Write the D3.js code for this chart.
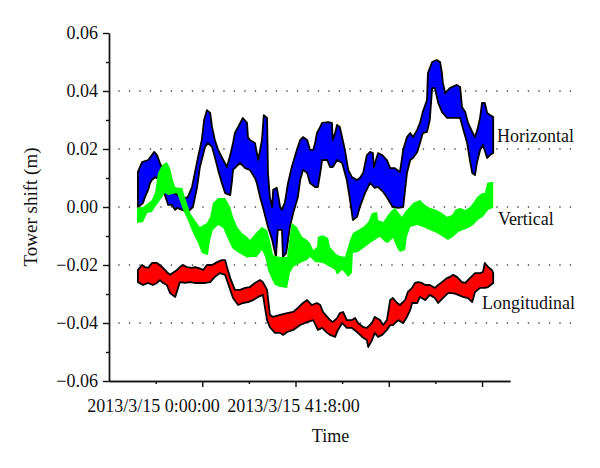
<!DOCTYPE html>
<html>
<head>
<meta charset="utf-8">
<script src="https://cdnjs.cloudflare.com/ajax/libs/d3/7.8.5/d3.min.js"></script>
<style>
  body { margin: 0; background: #fff; }
  svg text { font-family: "Liberation Serif", "Times New Roman", serif; fill: #111; }
</style>
</head>
<body>
<div id="chart"></div>
<script>
// y axis ticks (m)
var yMajorTicks = [-0.06, -0.04, -0.02, 0, 0.02, 0.04, 0.06];
var yMinorTicks = [-0.05, -0.03, -0.01, 0.01, 0.03, 0.05];
var yGridValues = [-0.04, -0.02, 0, 0.02, 0.04];

// x axis in tick units (one minor step = 10)
var xMajorTicks = [20, 40, 60, 80];
var xMinorTicks = [10, 30, 50, 70];
var xTickLabels = [[10, '2013/3/15 0:00:00'], [40, '2013/3/15 41:8:00']];

// each series is a band: upper edge and lower edge, [time, shift]
var horizontalTop = [[6.2,0.0121],[7.1,0.0155],[8.4,0.0162],[9.2,0.0179],[9.7,0.0190],[10.3,0.0179],[10.9,0.0152],[11.4,0.0134],[12.2,0.0093],[13.5,0.0052],[14.8,0.0041],[16.1,0.0031],[16.9,0.0034],[17.8,0.0069],[18.4,0.0117],[19.1,0.0172],[19.9,0.0231],[20.4,0.0300],[21.0,0.0334],[21.7,0.0324],[22.1,0.0276],[22.7,0.0231],[23.4,0.0197],[24.5,0.0162],[25.3,0.0138],[26.0,0.0179],[26.6,0.0221],[27.0,0.0255],[27.7,0.0276],[28.7,0.0307],[29.6,0.0290],[29.8,0.0241],[30.2,0.0231],[31.3,0.0221],[32.0,0.0162],[32.8,0.0231],[33.2,0.0317],[33.9,0.0307],[34.1,0.0117],[34.5,0.0034],[35.0,0.0000],[35.2,0.0059],[36.0,0.0066],[36.7,0.0000],[37.1,-0.0010],[37.3,0.0000],[37.7,0.0014],[38.4,0.0083],[39.2,0.0138],[40.3,0.0197],[41.0,0.0231],[41.6,0.0241],[42.5,0.0231],[43.1,0.0197],[43.8,0.0197],[44.2,0.0221],[44.6,0.0255],[45.3,0.0276],[45.7,0.0290],[47.0,0.0293],[47.8,0.0290],[48.0,0.0231],[48.5,0.0255],[48.9,0.0283],[49.5,0.0276],[50.6,0.0197],[51.3,0.0128],[52.1,0.0103],[53.2,0.0093],[53.8,0.0100],[54.5,0.0117],[55.3,0.0179],[56.0,0.0190],[56.6,0.0186],[56.8,0.0138],[57.7,0.0186],[58.6,0.0179],[59.6,0.0162],[60.3,0.0134],[61.3,0.0134],[62.4,0.0121],[63.1,0.0197],[63.9,0.0241],[64.6,0.0255],[65.2,0.0241],[66.1,0.0266],[66.7,0.0290],[67.3,0.0328],[68.2,0.0369],[68.4,0.0462],[69.3,0.0500],[70.3,0.0507],[71.0,0.0500],[71.4,0.0462],[71.6,0.0428],[72.1,0.0393],[73.1,0.0410],[74.6,0.0421],[75.3,0.0414],[75.7,0.0345],[76.4,0.0328],[77.0,0.0290],[77.9,0.0259],[78.5,0.0241],[79.1,0.0272],[79.6,0.0310],[80.0,0.0359],[80.6,0.0359],[81.1,0.0324],[81.7,0.0317],[82.4,0.0310]];
var horizontalBottom = [[6.2,0.0000],[7.3,0.0014],[7.7,0.0034],[8.4,0.0059],[8.8,0.0083],[9.2,0.0093],[9.9,0.0103],[10.9,0.0093],[12.0,0.0041],[12.7,0.0007],[13.5,0.0007],[14.2,-0.0010],[14.6,-0.0003],[15.7,-0.0010],[16.9,-0.0017],[18.0,0.0000],[18.9,0.0069],[19.5,0.0138],[20.6,0.0207],[21.2,0.0221],[22.1,0.0207],[22.7,0.0172],[23.4,0.0128],[24.2,0.0083],[24.9,0.0048],[26.0,0.0041],[26.4,0.0093],[26.6,0.0128],[28.1,0.0152],[29.2,0.0134],[30.2,0.0128],[31.3,0.0100],[31.7,0.0083],[32.4,0.0034],[33.0,0.0000],[34.1,-0.0069],[35.0,-0.0114],[35.8,-0.0172],[36.2,-0.0079],[37.1,-0.0079],[37.3,-0.0172],[38.0,-0.0159],[38.4,-0.0114],[38.8,-0.0069],[39.5,-0.0021],[40.5,0.0034],[41.0,0.0093],[41.6,0.0128],[42.5,0.0117],[43.1,0.0083],[44.2,0.0069],[44.8,0.0069],[45.3,0.0117],[45.7,0.0162],[46.8,0.0162],[47.4,0.0138],[48.0,0.0138],[48.9,0.0162],[50.0,0.0152],[51.0,0.0093],[51.7,0.0024],[52.3,-0.0045],[53.2,-0.0034],[53.8,0.0000],[54.9,0.0048],[56.0,0.0083],[57.0,0.0066],[57.7,0.0069],[58.8,0.0052],[59.6,0.0034],[60.3,0.0014],[60.9,0.0000],[62.0,-0.0003],[63.1,0.0000],[63.5,0.0059],[63.9,0.0117],[64.6,0.0162],[65.2,0.0169],[66.1,0.0190],[66.7,0.0221],[67.3,0.0255],[68.2,0.0259],[68.8,0.0300],[69.3,0.0410],[69.9,0.0410],[70.6,0.0359],[71.4,0.0328],[72.5,0.0307],[73.8,0.0307],[75.3,0.0307],[75.9,0.0272],[76.8,0.0221],[77.4,0.0162],[77.9,0.0117],[78.5,0.0110],[78.9,0.0152],[79.6,0.0197],[80.2,0.0214],[81.1,0.0169],[81.7,0.0179],[82.4,0.0186]];

var verticalTop = [[6.0,-0.0003],[7.3,0.0000],[8.4,0.0014],[9.2,0.0024],[9.9,0.0052],[10.5,0.0117],[11.4,0.0145],[12.4,0.0155],[13.1,0.0134],[13.7,0.0093],[14.2,0.0069],[14.8,0.0066],[15.7,0.0066],[16.3,0.0034],[17.4,-0.0021],[18.4,-0.0045],[19.5,-0.0069],[21.0,-0.0055],[21.7,-0.0034],[22.3,0.0014],[23.4,0.0031],[24.9,0.0031],[26.0,0.0000],[26.6,-0.0034],[27.5,-0.0069],[28.5,-0.0090],[29.6,-0.0103],[30.2,-0.0114],[31.7,-0.0086],[32.8,-0.0069],[33.9,-0.0079],[34.5,-0.0114],[35.2,-0.0166],[36.7,-0.0172],[38.2,-0.0172],[38.8,-0.0097],[39.2,-0.0055],[40.3,-0.0069],[41.4,-0.0103],[42.5,-0.0114],[43.1,-0.0124],[43.8,-0.0148],[44.6,-0.0138],[44.8,-0.0103],[45.9,-0.0097],[47.0,-0.0107],[47.4,-0.0138],[48.5,-0.0159],[49.1,-0.0166],[50.6,-0.0172],[51.7,-0.0114],[52.3,-0.0090],[53.4,-0.0079],[54.5,-0.0069],[55.6,-0.0052],[56.4,-0.0021],[57.5,-0.0017],[57.7,-0.0045],[58.8,-0.0052],[60.3,-0.0017],[61.3,-0.0003],[62.8,-0.0034],[63.5,-0.0017],[65.2,0.0014],[66.7,0.0024],[67.8,0.0007],[68.8,-0.0003],[70.3,-0.0010],[71.4,-0.0021],[72.5,-0.0034],[73.6,-0.0028],[74.2,-0.0010],[75.3,-0.0003],[76.4,-0.0010],[77.4,0.0000],[78.1,0.0014],[78.9,0.0034],[80.0,0.0048],[80.6,0.0048],[81.1,0.0083],[81.7,0.0086],[82.4,0.0086]];
var verticalBottom = [[6.0,-0.0055],[7.3,-0.0052],[8.2,-0.0021],[9.2,-0.0017],[9.9,0.0000],[11.4,0.0034],[12.0,0.0048],[12.7,0.0041],[14.6,0.0048],[15.9,-0.0010],[16.9,-0.0045],[18.0,-0.0090],[19.1,-0.0124],[19.9,-0.0159],[21.2,-0.0166],[21.7,-0.0114],[22.3,-0.0079],[23.4,-0.0062],[24.5,-0.0072],[25.3,-0.0103],[26.4,-0.0141],[27.5,-0.0155],[28.7,-0.0166],[29.8,-0.0176],[30.2,-0.0172],[31.7,-0.0172],[32.8,-0.0148],[33.5,-0.0172],[34.1,-0.0217],[35.0,-0.0252],[35.6,-0.0269],[36.7,-0.0276],[38.2,-0.0279],[38.8,-0.0228],[39.5,-0.0207],[41.0,-0.0193],[42.5,-0.0183],[43.1,-0.0172],[44.2,-0.0190],[45.9,-0.0193],[47.4,-0.0207],[48.5,-0.0217],[48.9,-0.0234],[50.0,-0.0217],[50.6,-0.0228],[51.3,-0.0241],[52.1,-0.0228],[52.3,-0.0159],[53.4,-0.0155],[54.9,-0.0138],[56.0,-0.0124],[57.0,-0.0114],[58.1,-0.0103],[59.2,-0.0121],[59.8,-0.0124],[60.9,-0.0107],[61.8,-0.0141],[62.4,-0.0155],[63.5,-0.0148],[63.9,-0.0103],[64.6,-0.0069],[66.1,-0.0062],[67.3,-0.0069],[68.8,-0.0079],[70.3,-0.0090],[71.6,-0.0103],[72.7,-0.0114],[73.8,-0.0103],[74.9,-0.0086],[75.9,-0.0079],[77.0,-0.0072],[78.1,-0.0062],[79.1,-0.0045],[80.2,-0.0034],[81.3,-0.0010],[82.4,-0.0003]];

var longitudinalTop = [[6.2,-0.0217],[7.1,-0.0200],[7.7,-0.0207],[8.4,-0.0210],[9.2,-0.0193],[10.3,-0.0193],[11.4,-0.0207],[12.4,-0.0224],[13.1,-0.0234],[14.6,-0.0217],[15.2,-0.0207],[15.9,-0.0200],[16.7,-0.0207],[17.8,-0.0210],[18.4,-0.0207],[19.1,-0.0210],[20.2,-0.0217],[21.0,-0.0200],[22.1,-0.0200],[23.2,-0.0190],[24.2,-0.0183],[24.9,-0.0183],[25.3,-0.0207],[26.0,-0.0245],[27.0,-0.0286],[28.1,-0.0286],[29.2,-0.0279],[30.2,-0.0276],[31.3,-0.0262],[32.4,-0.0252],[33.0,-0.0259],[33.9,-0.0286],[34.5,-0.0372],[35.2,-0.0379],[36.7,-0.0372],[38.2,-0.0366],[39.5,-0.0362],[40.5,-0.0348],[41.6,-0.0331],[42.5,-0.0321],[43.5,-0.0338],[44.6,-0.0331],[45.3,-0.0338],[45.9,-0.0362],[46.8,-0.0379],[47.4,-0.0390],[48.0,-0.0397],[48.9,-0.0383],[49.5,-0.0366],[50.2,-0.0362],[51.0,-0.0390],[52.1,-0.0390],[52.8,-0.0383],[53.4,-0.0400],[54.5,-0.0414],[55.3,-0.0417],[56.4,-0.0400],[57.0,-0.0379],[58.1,-0.0390],[58.8,-0.0407],[59.6,-0.0390],[60.3,-0.0321],[60.9,-0.0314],[61.8,-0.0331],[62.4,-0.0338],[63.5,-0.0321],[64.1,-0.0293],[65.0,-0.0279],[65.6,-0.0262],[66.3,-0.0259],[67.1,-0.0262],[67.8,-0.0269],[68.8,-0.0269],[69.9,-0.0279],[70.6,-0.0269],[71.4,-0.0259],[72.5,-0.0245],[73.1,-0.0241],[73.8,-0.0234],[74.6,-0.0241],[75.7,-0.0259],[76.4,-0.0262],[77.4,-0.0245],[78.5,-0.0228],[79.6,-0.0228],[80.2,-0.0224],[80.6,-0.0193],[81.3,-0.0207],[82.1,-0.0217],[82.4,-0.0228]];
var longitudinalBottom = [[6.2,-0.0259],[7.3,-0.0269],[8.4,-0.0262],[9.4,-0.0269],[10.3,-0.0262],[10.9,-0.0252],[11.6,-0.0262],[12.4,-0.0269],[13.1,-0.0297],[14.2,-0.0310],[15.2,-0.0259],[16.3,-0.0262],[17.4,-0.0259],[18.4,-0.0262],[19.5,-0.0262],[20.6,-0.0262],[21.7,-0.0259],[22.7,-0.0241],[23.8,-0.0228],[24.9,-0.0234],[25.5,-0.0262],[26.6,-0.0314],[27.7,-0.0338],[28.7,-0.0331],[29.8,-0.0328],[30.9,-0.0321],[32.0,-0.0310],[33.0,-0.0303],[33.9,-0.0390],[34.5,-0.0414],[35.6,-0.0434],[36.7,-0.0434],[37.3,-0.0441],[38.2,-0.0431],[39.5,-0.0424],[41.0,-0.0407],[42.5,-0.0397],[43.8,-0.0390],[44.8,-0.0424],[45.7,-0.0417],[46.8,-0.0434],[47.4,-0.0441],[48.5,-0.0448],[49.1,-0.0424],[50.0,-0.0400],[51.0,-0.0417],[52.1,-0.0417],[53.2,-0.0431],[54.3,-0.0448],[55.3,-0.0459],[55.6,-0.0483],[56.4,-0.0459],[57.0,-0.0434],[57.7,-0.0448],[58.6,-0.0441],[59.6,-0.0424],[60.3,-0.0407],[60.9,-0.0407],[62.0,-0.0390],[63.1,-0.0400],[63.9,-0.0379],[64.6,-0.0355],[65.0,-0.0331],[66.1,-0.0331],[66.7,-0.0310],[67.8,-0.0321],[68.8,-0.0303],[69.9,-0.0314],[70.6,-0.0331],[71.6,-0.0314],[72.7,-0.0297],[73.8,-0.0297],[74.9,-0.0303],[75.9,-0.0310],[77.0,-0.0314],[77.9,-0.0328],[78.5,-0.0293],[79.6,-0.0279],[80.6,-0.0279],[81.3,-0.0276],[82.4,-0.0262]];

var seriesNames = ['Horizontal', 'Vertical', 'Longitudinal'];
// where each name sits, [time, shift] of its baseline-left corner
var seriesLabelAt = [[83.2, 0.0224], [83.4, -0.0062], [80.0, -0.0352]];

var width = 600, height = 468
  , serif = '"Liberation Serif", "Times New Roman", serif';

var svg = d3.select('#chart').append('svg')
  .attr('width', width)
  .attr('height', height);

var x = d3.scaleLinear().domain([0, 86]).range([109, 510]);
var y = d3.scaleLinear().domain([-0.06, 0.06]).range([381, 33]);

//dotted grid, it runs past the end of the x axis like in the original
svg.append('g')
  .selectAll('line')
  .data(yGridValues)
  .enter().append('line')
    .attr('x1', x(2))
    .attr('x2', x(99.5))
    .attr('y1', function(d) { return y(d); })
    .attr('y2', function(d) { return y(d); })
    .attr('stroke', '#444')
    .attr('stroke-width', 1.3)
    .attr('stroke-dasharray', '1.3,9.2');

var series = [
  {top: horizontalTop, bottom: horizontalBottom, fill: '#0000ff', stroke: '#000'},
  {top: verticalTop, bottom: verticalBottom, fill: '#00ff00', stroke: 'none'},
  {top: longitudinalTop, bottom: longitudinalBottom, fill: '#ff0000', stroke: '#000'}
];

var bandLine = d3.line()
  .x(function(d) { return x(d[0]); })
  .y(function(d) { return y(d[1]); })
  .curve(d3.curveLinearClosed);

svg.append('g')
  .selectAll('path')
  .data(series)
  .enter().append('path')
    .attr('d', function(d) { return bandLine(d.top.concat(d.bottom.slice().reverse())); })
    .attr('fill', function(d) { return d.fill; })
    .attr('stroke', function(d) { return d.stroke; })
    .attr('stroke-width', 1.8)
    .attr('stroke-linejoin', 'round');

// axes
var fmt = d3.format('.2f');

var yAxis = svg.append('g')
  .attr('transform', 'translate(' + x(0) + ',0)')
  .call(d3.axisLeft(y).tickValues(yMajorTicks).tickFormat(fmt).tickSize(6).tickSizeOuter(0).tickPadding(5))
  .attr('font-family', serif)
  .attr('font-size', 18);
svg.append('g')
  .attr('transform', 'translate(' + x(0) + ',0)')
  .call(d3.axisLeft(y).tickValues(yMinorTicks).tickFormat('').tickSize(3).tickSizeOuter(0));

var xAxis = svg.append('g')
  .attr('transform', 'translate(0,' + y(-0.06) + ')')
  .call(d3.axisBottom(x).tickValues(xMajorTicks).tickFormat('').tickSize(6).tickSizeOuter(0))
  .attr('font-family', serif)
  .attr('font-size', 18);
svg.append('g')
  .attr('transform', 'translate(0,' + y(-0.06) + ')')
  .call(d3.axisBottom(x).tickValues(xMinorTicks).tickFormat('').tickSize(3).tickSizeOuter(0));

svg.selectAll('.domain, .tick line')
  .attr('stroke', '#111')
  .attr('stroke-width', 1.4);

yAxis.selectAll('text')
  .style('font-family', serif)
  .style('font-size', '18px')
  .attr('fill', '#111');

xAxis.selectAll('.xlabel')
  .data(xTickLabels)
  .enter().append('text')
    .attr('class', 'xlabel')
    .attr('x', function(d) { return x(d[0]) - 2; })
    .attr('y', 31)
    .attr('text-anchor', 'middle')
    .style('font-family', serif)
    .style('font-size', '18px')
    .attr('fill', '#111')
    .text(function(d) { return d[1]; });

// titles
svg.append('text')
  .attr('x', x(47.5))
  .attr('y', 442)
  .attr('text-anchor', 'middle')
  .style('font-size', '18px')
  .text('Time');

svg.append('text')
  .attr('transform', 'translate(37,' + y(0) + ')rotate(-90)')
  .attr('text-anchor', 'middle')
  .style('font-size', '19px')
  .text('Tower shift (m)');

// series names next to the bands
svg.append('g')
  .selectAll('text')
  .data(seriesNames)
  .enter().append('text')
    .attr('x', function(d, i) { return x(seriesLabelAt[i][0]); })
    .attr('y', function(d, i) { return y(seriesLabelAt[i][1]); })
    .style('font-size', '18px')
    .text(function(d) { return d; });
</script>
</body>
</html>
